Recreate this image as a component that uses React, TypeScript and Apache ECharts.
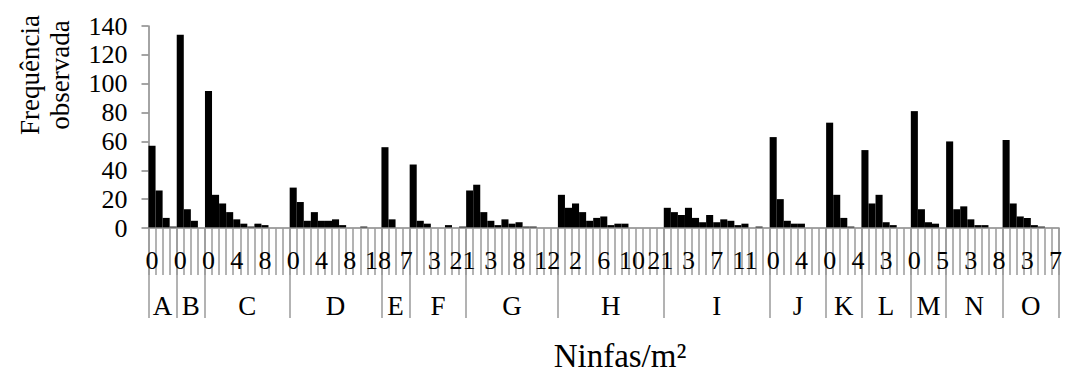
import React, { useEffect, useRef } from "react";
import * as echarts from "echarts";

const groupNames = ["A", "B", "C", "D", "E", "F", "G", "H", "I", "J", "K", "L", "M", "N", "O"];

const classesA = ["0", "1", "2", "3"];
const classesB = ["0", "1", "2", "3"];
const classesC = ["0", "1", "2", "3", "4", "5", "6", "7", "8", "9", "10", "11"];
const classesD = ["0", "1", "2", "3", "4", "5", "6", "7", "8", "9", "10", "11", "18"];
const classesE = ["0", "1", "2", "7"];
const classesF = ["0", "1", "2", "3", "4", "5", "6", "21"];
const classesG = ["0", "1", "2", "3", "4", "5", "6", "8", "9", "10", "11", "12", "14"];
const classesH = ["0", "1", "2", "3", "4", "5", "6", "7", "8", "9", "10", "11", "12", "13", "21"];
const classesI = ["0", "1", "2", "3", "4", "5", "6", "7", "8", "9", "10", "11", "12", "13", "14"];
const classesJ = ["0", "1", "2", "3", "4", "5", "6", "7"];
const classesK = ["0", "1", "2", "3", "4"];
const classesL = ["0", "1", "2", "3", "4", "5", "6"];
const classesM = ["0", "1", "2", "3", "5"];
const classesN = ["0", "1", "2", "3", "4", "5", "6", "8"];
const classesO = ["0", "1", "2", "3", "4", "5", "6", "7"];

const freqA = [57, 26, 7, 1];
const freqB = [134, 13, 5, 0];
const freqC = [95, 23, 17, 11, 6, 3, 1, 3, 2, 0, 0, 0];
const freqD = [28, 18, 5, 11, 5, 5, 6, 2, 0, 0, 1, 0, 0];
const freqE = [56, 6, 0, 0];
const freqF = [44, 5, 3, 0, 0, 2, 0, 1];
const freqG = [26, 30, 11, 5, 2, 6, 3, 4, 1, 1, 0, 0, 0];
const freqH = [23, 14, 17, 11, 5, 7, 8, 2, 3, 3, 0, 0, 0, 0, 0];
const freqI = [14, 11, 9, 14, 7, 4, 9, 4, 6, 5, 2, 3, 0, 1, 0];
const freqJ = [63, 20, 5, 3, 3, 0, 0, 0];
const freqK = [73, 23, 7, 1, 0];
const freqL = [54, 17, 23, 4, 2, 0, 0];
const freqM = [81, 13, 4, 3, 0];
const freqN = [60, 13, 15, 6, 2, 2, 0, 0];
const freqO = [61, 17, 8, 7, 2, 1, 0, 0];

const yMin = 0;
const yMax = 140;
const yStep = 20;

const xTitle = "Ninfas/m²";
const yTitle = "Frequência\nobservada";

const FONT = "Times New Roman";

export default function App() {
  const ref = useRef<HTMLDivElement>(null);

  useEffect(() => {
    document.body.style.margin = "0";
    if (!ref.current) return;
    const chart = echarts.init(ref.current, null, { renderer: "svg" });

    const classes = [classesA, classesB, classesC, classesD, classesE, classesF, classesG, classesH, classesI, classesJ, classesK, classesL, classesM, classesN, classesO];
    const freqs = [freqA, freqB, freqC, freqD, freqE, freqF, freqG, freqH, freqI, freqJ, freqK, freqL, freqM, freqN, freqO];

    const categories: string[] = [];
    const values: number[] = [];
    const boundaries: number[] = [0];
    classes.forEach((c, gi) => {
      c.forEach((lab, i) => {
        categories.push(lab);
        values.push(freqs[gi][i]);
      });
      boundaries.push(boundaries[boundaries.length - 1] + c.length);
    });
    const centers = groupNames.map((_, i) => (boundaries[i] + boundaries[i + 1]) / 2);
    const total = categories.length;

    const tickColor = "#9a9a9a";
    const axisColor = "#868686";

    chart.setOption({
      animation: false,
      grid: { left: 148.5, right: 0, top: 26, bottom: 148 },
      xAxis: [
        {
          type: "category",
          data: categories,
          position: "bottom",
          axisLine: { show: true, lineStyle: { color: axisColor, width: 1.5 } },
          axisTick: { show: true, interval: 0, length: 47, lineStyle: { color: tickColor, width: 1.5 } },
          axisLabel: { interval: 3, fontSize: 26, fontFamily: FONT, color: "#000", margin: 19 },
          splitLine: { show: false },
          z: 5,
        },
        {
          type: "value",
          min: 0,
          max: total,
          position: "bottom",
          axisLine: { show: false },
          splitLine: { show: false },
          axisTick: { show: true, customValues: boundaries, length: 90, lineStyle: { color: tickColor, width: 1.5 } },
          axisLabel: {
            customValues: centers,
            formatter: (v: number) => {
              const i = centers.findIndex((c) => Math.abs(c - v) < 1e-6);
              return i >= 0 ? groupNames[i] : "";
            },
            fontSize: 27,
            fontFamily: FONT,
            color: "#000",
            margin: 64,
          },
        },
      ],
      yAxis: {
        type: "value",
        min: yMin,
        max: yMax,
        interval: yStep,
        axisLine: { show: true, lineStyle: { color: axisColor, width: 1.5 } },
        axisTick: { show: true, length: 7, lineStyle: { color: axisColor, width: 1.5 } },
        splitLine: { show: false },
        axisLabel: { fontSize: 26, fontFamily: FONT, color: "#000", margin: 21 },
      },
      series: [
        {
          type: "bar",
          data: values,
          barCategoryGap: "0%",
          itemStyle: { color: "#000" },
          z: 2,
        },
      ],
      graphic: [
        {
          type: "text",
          x: 45,
          y: 75,
          rotation: Math.PI / 2,
          style: {
            text: yTitle,
            fontSize: 27,
            fontFamily: FONT,
            fill: "#000",
            align: "center",
            verticalAlign: "middle",
            lineHeight: 30,
          },
        },
        {
          type: "text",
          x: 620,
          y: 356,
          style: {
            text: xTitle,
            fontSize: 33,
            fontFamily: FONT,
            fill: "#000",
            align: "center",
            verticalAlign: "middle",
          },
        },
      ],
    });

    return () => chart.dispose();
  }, []);

  return <div ref={ref} style={{ width: 1065, height: 376 }} />;
}
